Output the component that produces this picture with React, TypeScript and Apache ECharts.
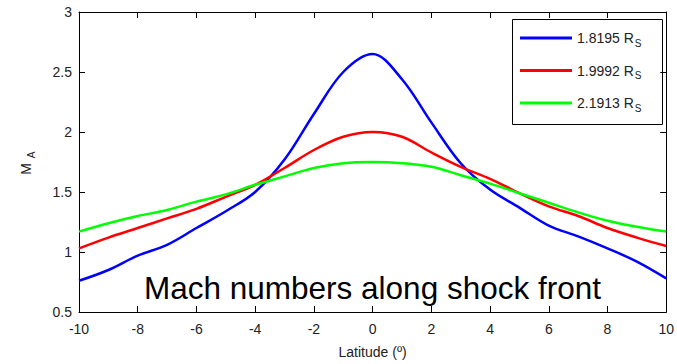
import React, { useEffect, useRef } from "react";
import * as echarts from "echarts";

const latitude = [-10, -9, -8, -7, -6, -5, -4, -3, -2, -1, 0, 1, 2, 3, 4, 5, 6, 7, 8, 9, 10];
const mach18195 = [0.76, 0.85, 0.97, 1.06, 1.2, 1.34, 1.5, 1.77, 2.15, 2.5, 2.65, 2.44, 2.08, 1.74, 1.52, 1.37, 1.22, 1.13, 1.03, 0.92, 0.78];
const mach19992 = [1.03, 1.12, 1.2, 1.28, 1.36, 1.46, 1.56, 1.7, 1.85, 1.96, 2.0, 1.96, 1.83, 1.71, 1.61, 1.49, 1.38, 1.3, 1.2, 1.12, 1.05];
const mach21913 = [1.17, 1.24, 1.3, 1.35, 1.42, 1.48, 1.56, 1.63, 1.7, 1.74, 1.75, 1.74, 1.71, 1.64, 1.57, 1.49, 1.41, 1.33, 1.26, 1.21, 1.17];
const seriesNames = ["1.8195", "1.9992", "2.1913"];
const seriesColors = ["#0000ff", "#ff0000", "#00ff00"];
const xTicks = { min: -10, max: 10, interval: 2 };
const yTicks = { min: 0.5, max: 3, interval: 0.5 };
const titleText = "Mach numbers along shock front";
const xName = "Latitude (º)";

const FONT = "'Liberation Sans', Arial, Helvetica, sans-serif";

export default function App() {
  const ref = useRef<HTMLDivElement>(null);
  useEffect(() => {
    if (!ref.current) return;
    const chart = echarts.init(ref.current, null, { renderer: "svg" });
    const all = [mach18195, mach19992, mach21913];
    const axisLine = { show: true, onZero: false, lineStyle: { color: "#000", width: 1 } };
    const axisTick = { show: true, inside: true, length: 6, lineStyle: { color: "#000", width: 1 } };
    chart.setOption({
      animation: false,
      backgroundColor: "#fff",
      grid: { left: 79, right: 9, top: 12, bottom: 51, containLabel: false },
      xAxis: [
        {
          type: "value",
          ...xTicks,
          axisLine,
          axisTick,
          splitLine: { show: false },
          axisLabel: { color: "#222", fontSize: 14, fontFamily: FONT, margin: 10 },
          name: xName,
          nameLocation: "middle",
          nameGap: 33,
          nameTextStyle: { color: "#222", fontSize: 14, fontFamily: FONT },
        },
        {
          type: "value",
          position: "top",
          ...xTicks,
          axisLine,
          axisTick,
          splitLine: { show: false },
          axisLabel: { show: false },
        },
      ],
      yAxis: [
        {
          type: "value",
          position: "left",
          ...yTicks,
          axisLine,
          axisTick,
          splitLine: { show: false },
          axisLabel: { color: "#222", fontSize: 14, fontFamily: FONT, margin: 7 },
        },
        {
          type: "value",
          position: "right",
          ...yTicks,
          axisLine,
          axisTick,
          splitLine: { show: false },
          axisLabel: { show: false },
        },
      ],
      legend: {
        show: true,
        orient: "vertical",
        left: 520,
        top: 28,
        padding: 0,
        itemWidth: 52,
        itemHeight: 3,
        itemGap: 12.5,
        icon: "rect",
        data: seriesNames,
        formatter: (n: string) => `{a|${n} R}{s|S}`,
        textStyle: {
          color: "#222",
          fontFamily: FONT,
          fontSize: 14,
          lineHeight: 20,
          rich: {
            a: { fontSize: 14, fontFamily: FONT, color: "#222", lineHeight: 20 },
            s: { fontSize: 10, fontFamily: FONT, color: "#222", lineHeight: 20, padding: [10, 0, 0, 1] },
          },
        },
      },
      graphic: [
        {
          type: "rect",
          shape: { x: 512.5, y: 19.5, width: 150, height: 105 },
          style: { fill: "none", stroke: "#000", lineWidth: 1 },
          z: 10,
        },
        {
          type: "text",
          x: 144,
          y: 288,
          style: { text: titleText, fontSize: 31.5, fontFamily: FONT, fill: "#000", align: "left", verticalAlign: "middle" },
          z: 10,
        },
        {
          type: "text",
          x: 26,
          y: 169,
          rotation: Math.PI / 2,
          style: { text: "M", fontSize: 14, fontFamily: FONT, fill: "#222", align: "center", verticalAlign: "middle" },
        },
        {
          type: "text",
          x: 31,
          y: 155,
          rotation: Math.PI / 2,
          style: { text: "A", fontSize: 10, fontFamily: FONT, fill: "#222", align: "center", verticalAlign: "middle" },
        },
      ],
      series: seriesNames.map((name, k) => ({
        name,
        type: "line",
        xAxisIndex: 0,
        yAxisIndex: 0,
        data: latitude.map((x, i) => [x, all[k][i]]),
        smooth: 0.35,
        showSymbol: false,
        symbol: "none",
        lineStyle: { color: seriesColors[k], width: 2.5 },
        itemStyle: { color: seriesColors[k] },
      })),
    });
    return () => chart.dispose();
  }, []);
  return <div ref={ref} style={{ width: 677, height: 364, position: "absolute", left: 0, top: 0 }} />;
}
